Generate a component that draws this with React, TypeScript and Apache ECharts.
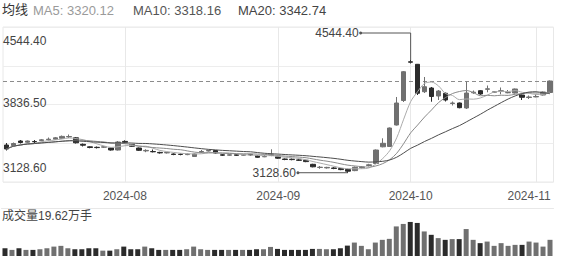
import React, { useEffect, useRef } from 'react';
import * as echarts from 'echarts';

const dates = [
  '2024-07-09','2024-07-10','2024-07-11','2024-07-12','2024-07-15','2024-07-16','2024-07-17','2024-07-18','2024-07-19','2024-07-22',
  '2024-07-23','2024-07-24','2024-07-25','2024-07-26','2024-07-29','2024-07-30','2024-07-31',
  '2024-08-01','2024-08-02','2024-08-05','2024-08-06','2024-08-07','2024-08-08','2024-08-09','2024-08-12','2024-08-13','2024-08-14',
  '2024-08-15','2024-08-16','2024-08-19','2024-08-20','2024-08-21','2024-08-22','2024-08-23','2024-08-26','2024-08-27','2024-08-28',
  '2024-08-29','2024-08-30',
  '2024-09-02','2024-09-03','2024-09-04','2024-09-05','2024-09-06','2024-09-09','2024-09-10','2024-09-11','2024-09-12','2024-09-13',
  '2024-09-18','2024-09-19','2024-09-20','2024-09-23','2024-09-24','2024-09-25','2024-09-26','2024-09-27','2024-09-30',
  '2024-10-08','2024-10-09','2024-10-10','2024-10-11','2024-10-14','2024-10-15','2024-10-16','2024-10-17','2024-10-18','2024-10-21',
  '2024-10-22','2024-10-23','2024-10-24','2024-10-25','2024-10-28','2024-10-29','2024-10-30','2024-10-31',
  '2024-11-01','2024-11-04','2024-11-05',
];

const opens = [3476.8,3470.5,3527.0,3512.0,3520.7,3532.1,3542.1,3549.7,3561.0,3578.5,3567.2,3485.6,3454.2,3447.9,3449.2,3439.1,3414.0,3522.0,3481.8,3439.1,3402.7,3395.2,3383.9,3377.6,3363.8,3361.3,3356.2,3332.4,3388.9,3401.4,3407.7,3353.7,3348.7,3353.7,3348.7,3357.5,3343.7,3328.6,3346.2,3328.6,3301.0,3298.5,3289.7,3284.6,3234.4,3194.2,3189.2,3187.9,3180.4,3169.1,3155.3,3193.0,3219.3,3244.4,3454.2,3458.0,3728.0,4035.7,4521.8,4490.4,4146.2,4192.7,4092.2,4126.2,3998.0,4004.3,3941.5,4132.4,4158.8,4176.4,4140.0,4151.3,4132.4,4129.9,4104.8,4073.4,4080.9,4104.8,4136.2];
const closes = [3426.6,3495.6,3508.2,3527.0,3517.0,3542.1,3549.7,3567.2,3584.8,3583.5,3504.5,3474.3,3445.4,3444.2,3454.2,3414.0,3514.5,3512.0,3460.5,3410.2,3409.0,3391.4,3377.6,3382.6,3357.5,3357.5,3361.3,3363.8,3395.2,3407.7,3376.3,3348.7,3353.7,3347.4,3355.0,3352.5,3322.3,3332.4,3352.5,3311.0,3294.7,3293.4,3284.6,3268.3,3203.0,3198.0,3195.5,3182.9,3167.8,3147.7,3196.7,3200.5,3228.1,3414.0,3498.1,3690.3,4004.3,4397.4,4516.8,4126.2,4209.0,4086.0,4155.0,4042.0,4004.3,3945.3,4129.9,4140.0,4117.4,4182.7,4145.0,4157.6,4136.2,4180.2,4075.9,4079.7,4085.9,4142.5,4280.6];
const lows = [3407.7,3464.2,3495.6,3504.5,3501.9,3523.3,3533.3,3542.1,3553.4,3564.7,3495.6,3458.0,3435.4,3432.9,3439.1,3406.5,3407.7,3499.4,3452.9,3401.4,3386.4,3383.9,3368.8,3370.0,3348.7,3347.4,3348.7,3326.1,3376.3,3395.2,3368.8,3338.6,3341.1,3338.6,3343.7,3343.7,3316.0,3323.6,3336.1,3303.5,3285.9,3284.6,3275.8,3260.8,3196.7,3177.9,3180.4,3172.8,3160.3,3128.6,3147.7,3180.4,3206.8,3238.2,3447.9,3451.7,3721.7,4016.9,4500.4,4104.8,4129.9,4020.6,4042.0,4023.1,3972.9,3937.8,3929.0,4119.9,4107.3,4138.7,4132.4,4113.6,4126.2,4123.6,4042.0,4054.6,4075.9,4098.5,4129.9];
const highs = [3501.9,3508.2,3539.6,3533.3,3539.6,3552.2,3571.0,3577.3,3596.1,3608.7,3577.3,3495.6,3460.5,3458.0,3464.2,3445.4,3527.0,3535.8,3489.4,3445.4,3422.8,3420.3,3391.4,3390.1,3371.3,3370.0,3371.3,3370.0,3414.0,3416.5,3414.0,3361.3,3361.3,3363.8,3363.8,3366.3,3351.2,3353.7,3422.8,3334.9,3307.2,3307.2,3298.5,3291.0,3240.7,3213.0,3203.0,3198.0,3187.9,3179.1,3206.8,3213.0,3240.7,3420.3,3560.9,3696.6,4079.7,4406.2,4544.4,4494.2,4330.9,4205.3,4167.6,4135.8,4023.1,4010.6,4272.0,4161.3,4167.6,4224.1,4155.0,4199.0,4167.6,4186.4,4111.1,4098.5,4117.4,4148.8,4286.9];

// volume, 万手
const volumes = [9.4,7.4,9.4,7.4,7.4,8.2,9.4,11.4,12.3,9.4,8.2,8.2,9.4,9.4,6.5,6.5,8.2,11.4,8.2,8.2,11.4,9.4,7.4,7.4,7.4,7.4,8.2,11.4,8.2,7.4,7.4,7.4,7.4,7.4,7.4,7.4,8.2,8.2,11.0,8.6,7.4,7.4,7.4,7.4,8.6,8.6,8.2,8.2,9.4,12.6,16.3,12.3,8.2,16.3,19.6,20.8,35.9,38.9,41.3,40.1,29.8,25.7,21.7,19.6,20.5,20.5,32.7,19.6,15.6,17.5,12.3,15.6,12.3,13.5,13.5,17.5,16.3,11.4,19.62];

const yTickLabels = ['3128.60', '3836.50', '4544.40']; // bottom, middle, top
const maLegend = [
  { name: 'MA5', value: '3320.12' },
  { name: 'MA10', value: '3318.16' },
  { name: 'MA20', value: '3342.74' },
];
const maPeriods = [5, 10, 20];
const legendTitle = '均线';
const volumeTitle = '成交量';
const volumeUnit = '万手';

const UP = '#707070';
const DOWN = '#2b2b2b';
const MA_COLORS = ['#ababab', '#8a8a8a', '#4d4d4d'];
const LEGEND_COLORS = ['#9a9a9a', '#555555', '#444444'];
const FONT = '"Liberation Sans", Arial, "Noto Sans CJK SC", sans-serif';

function movingAverage(n: number): number[] {
  return closes.map((_, i) => {
    const s = Math.max(0, i - n + 1);
    let sum = 0;
    for (let k = s; k <= i; k++) sum += closes[k];
    return +(sum / (i - s + 1)).toFixed(2);
  });
}

export default function App() {
  const ref = useRef<HTMLDivElement>(null);

  useEffect(() => {
    if (!ref.current) return;
    const chart = echarts.init(ref.current, null, { renderer: 'svg' });

    const ohlc = dates.map((_, i) => [opens[i], closes[i], lows[i], highs[i]]);
    const monthStarts = dates
      .map((d, i) => (i > 0 && d.slice(0, 7) !== dates[i - 1].slice(0, 7) ? i : -1))
      .filter((i) => i >= 0);
    const lastMonthStart = monthStarts[monthStarts.length - 1];

    let maxIdx = 0;
    let minIdx = 0;
    highs.forEach((h, i) => { if (h > highs[maxIdx]) maxIdx = i; });
    lows.forEach((l, i) => { if (l < lows[minIdx]) minIdx = i; });

    const yMin = 3012.08;
    const yMax = 4958.88;
    const yInterval = (yMax - yMin) / 4;
    const lastClose = closes[closes.length - 1];

    const option: any = {
      animation: false,
      textStyle: { fontFamily: FONT },
      graphic: [
        { type: 'text', left: 2, top: 3, style: { text: legendTitle, fontSize: 13, fill: '#333', fontFamily: FONT } },
        ...maLegend.map((m, i) => ({
          type: 'text',
          left: [33, 133, 238][i],
          top: 3.5,
          style: { text: `${m.name}: ${m.value}`, fontSize: 13, fill: LEGEND_COLORS[i], fontFamily: FONT },
        })),
        {
          type: 'text', left: 2, top: 210,
          style: {
            text: `${volumeTitle}${volumes[volumes.length - 1].toFixed(2)}${volumeUnit}`,
            fontSize: 12, fill: '#444', fontFamily: FONT,
          },
        },
      ],
      grid: [
        { left: 1.5, right: 12.5, top: 27, bottom: 81, show: true, borderColor: '#e8e8e8', borderWidth: 1 },
        { left: 1.5, right: 12.5, top: 208, bottom: 7 },
      ],
      xAxis: [
        {
          type: 'category', gridIndex: 0, data: dates, boundaryGap: true,
          axisLine: { show: false }, axisTick: { show: false }, splitLine: { show: false },
          axisLabel: {
            interval: (index: number) => monthStarts.includes(index),
            margin: 8,
            fontSize: 12,
            color: '#555',
            fontFamily: FONT,
            formatter: (v: string, index: number) =>
              index === lastMonthStart ? `{r|${v.slice(0, 7)}}` : `{n|${v.slice(0, 7)}}`,
            rich: {
              n: { fontSize: 12, color: '#555', fontFamily: FONT },
              r: { fontSize: 12, color: '#555', fontFamily: FONT, padding: [0, 14, 0, 0] },
            },
          },
        },
        {
          type: 'category', gridIndex: 1, data: dates, boundaryGap: true, position: 'top',
          axisLine: { show: true, onZero: false, lineStyle: { color: '#e8e8e8', width: 1 } },
          axisTick: { show: false }, axisLabel: { show: false }, splitLine: { show: false },
        },
      ],
      yAxis: [
        {
          type: 'value', gridIndex: 0, min: yMin, max: yMax, interval: yInterval,
          axisLine: { show: false }, axisTick: { show: false },
          splitLine: { show: true, lineStyle: { color: '#ededed', width: 1 } },
          axisLabel: {
            inside: true, margin: 0, showMinLabel: true, showMaxLabel: true,
            fontSize: 12, color: '#444', fontFamily: FONT,
            formatter: (_v: number, index: number) => {
              if (index === 0) return `{b|${yTickLabels[0]}}`;
              if (index === 2) return `{m|${yTickLabels[1]}}`;
              if (index === 4) return `{t|${yTickLabels[2]}}`;
              return '';
            },
            rich: {
              t: { fontSize: 12, color: '#444', fontFamily: FONT, lineHeight: 14, padding: [28, 0, 0, 0] },
              m: { fontSize: 12, color: '#444', fontFamily: FONT, lineHeight: 14, padding: [0, 0, 3, 0] },
              b: { fontSize: 12, color: '#444', fontFamily: FONT, lineHeight: 14, padding: [0, 0, 28, 0] },
            },
          },
        },
        {
          type: 'value', gridIndex: 1, min: 0, max: (v: any) => v.max * 1.41,
          show: false, splitLine: { show: false },
        },
      ],
      series: [
        {
          name: 'K', type: 'candlestick', xAxisIndex: 0, yAxisIndex: 0,
          data: ohlc, barWidth: 5,
          itemStyle: { color: UP, color0: DOWN, borderColor: UP, borderColor0: DOWN, borderWidth: 1 },
          markLine: {
            silent: true, symbol: 'none', z: 1,
            label: { show: false },
            data: [
              ...monthStarts.map((i) => ({ xAxis: dates[i], lineStyle: { color: '#e8e8e8', type: 'solid', width: 1 } })),
              { yAxis: lastClose, lineStyle: { color: '#8c8c8c', type: [4, 3], width: 1 } },
            ],
          },
        },
        ...maPeriods.map((p, i) => ({
          name: maLegend[i].name, type: 'line', xAxisIndex: 0, yAxisIndex: 0,
          data: movingAverage(p), smooth: 0.3, showSymbol: false, symbol: 'none',
          lineStyle: { color: MA_COLORS[i], width: 1 }, silent: true,
        })),
        {
          type: 'custom', xAxisIndex: 0, yAxisIndex: 0, silent: true, clip: false,
          data: [[dates[maxIdx], highs[maxIdx]], [dates[minIdx], lows[minIdx]]],
          encode: { x: 0, y: 1 },
          renderItem: (params: any, api: any) => {
            const val = api.value(1);
            const pt = api.coord([api.value(0), val]);
            const x = pt[0];
            const y = pt[1];
            const isMax = params.dataIndex === 0;
            const tx = x - 50;
            const ty = isMax ? y - 27 : y;
            const stroke = '#555';
            return {
              type: 'group',
              children: [
                {
                  type: 'polyline',
                  shape: { points: isMax ? [[tx, ty], [x, ty], [x, y]] : [[tx, ty], [x, ty]] },
                  style: { stroke, fill: null, lineWidth: 1 },
                },
                { type: 'circle', shape: { cx: tx, cy: ty, r: 1.5 }, style: { fill: stroke } },
                {
                  type: 'text', x: tx - 2, y: ty,
                  style: {
                    text: Number(val).toFixed(2), align: 'right', verticalAlign: 'middle',
                    fontSize: 12, fill: '#444', fontFamily: FONT,
                  },
                },
              ],
            };
          },
        },
        {
          name: 'VOL', type: 'bar', xAxisIndex: 1, yAxisIndex: 1, barWidth: 5,
          data: volumes.map((v, i) => ({
            value: v,
            itemStyle: { color: closes[i] >= opens[i] ? UP : DOWN },
          })),
        },
      ],
    };

    chart.setOption(option);
    return () => chart.dispose();
  }, []);

  return (
    <div
      ref={ref}
      style={{ position: 'fixed', left: 0, top: 0, width: 566, height: 263, background: '#fff' }}
    />
  );
}
